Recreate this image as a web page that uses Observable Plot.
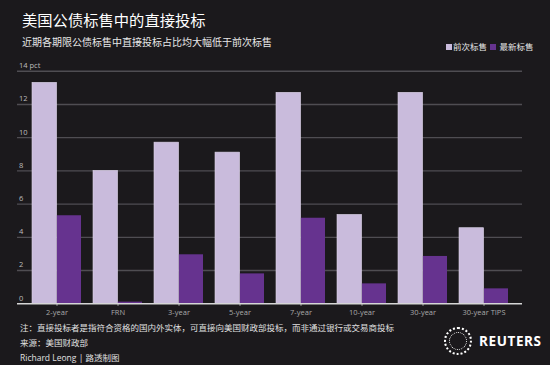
<!DOCTYPE html>
<html>
<head>
<meta charset="utf-8">
<script src="https://cdn.jsdelivr.net/npm/d3@7"></script>
<script src="https://cdn.jsdelivr.net/npm/@observablehq/plot@0.6"></script>
<style>
  html, body { margin: 0; padding: 0; background: #1b191c; }
  body { width: 550px; height: 365px; position: relative; overflow: hidden;
         font-family: "Open Sans", "Noto Sans CJK SC", sans-serif; }
  .t { position: absolute; white-space: nowrap; }
  #chart { position: absolute; left: 0; top: 0; }
  .sw { display: inline-block; width: 6px; height: 6px; margin-right: 1px; vertical-align: 0px; }
  .ring { position: absolute; border-radius: 50%; border-style: dotted; border-color: #fff; }
</style>
</head>
<body>
<div id="chart"></div>
<div class="t" style="left:22px; top:10px; font-size:15.3px; line-height:20px; color:#fff;">美国公债标售中的直接投标</div>
<div class="t" style="left:22px; top:35px; font-size:10px; line-height:14px; color:#e8e8e8;">近期各期限公债标售中直接投标占比均大幅低于前次标售</div>
<div class="t" id="legend" style="left:446px; top:41px; font-size:8.5px; line-height:12px; color:#e6e6e6;"></div>
<div class="t" style="left:20px; top:322px; font-size:8.5px; line-height:12px; color:#e0e0e0;">注：直接投标者是指符合资格的国内外实体，可直接向美国财政部投标，而非通过银行或交易商投标</div>
<div class="t" style="left:20px; top:337px; font-size:8.5px; line-height:12px; color:#e0e0e0;">来源：美国财政部</div>
<div class="t" style="left:20px; top:352px; font-size:8.5px; line-height:12px; color:#e0e0e0;">Richard Leong | 路透制图</div>
<div class="ring" style="left:444px; top:327px; width:24px; height:24px; border-width:2px;"></div>
<div class="ring" style="left:449px; top:332px; width:16px; height:16px; border-width:1.5px;"></div>
<div class="t" style="left:479px; top:332px; font-size:13.5px; line-height:18px; font-weight:bold; color:#fff; letter-spacing:0.6px; font-family:'Open Sans', sans-serif;">REUTERS</div>
<script>
const categories = ["2-year", "FRN", "3-year", "5-year", "7-year", "10-year", "30-year", "30-year TIPS"];
const previous = [13.3, 8.0, 9.7, 9.1, 12.7, 5.35, 12.7, 4.55];
const latest = [5.3, 0.1, 2.95, 1.8, 5.15, 1.2, 2.85, 0.9];
const seriesNames = ["前次标售", "最新标售"];
const yTicks = [0, 2, 4, 6, 8, 10, 12, 14];
const yTickLabels = ["0", "2", "4", "6", "8", "10", "12", "14 pct"];

const colors = ["#c9bbdc", "#66338f"];

const rows = categories.map((c, i) => ({cat: c, prev: previous[i], last: latest[i]}));

const xRange = [32.3, 508.3];
const bw = d3.scaleBand().domain(categories).range(xRange).paddingInner(0.2).paddingOuter(0).bandwidth();

const chart = Plot.plot({
  width: 550,
  height: 325,
  marginLeft: 17,
  marginRight: 28,
  marginTop: 70.7,
  marginBottom: 21.7,
  style: {background: "transparent", color: "#a8a8a8", fontSize: "7.5px", fontFamily: "'Open Sans', 'Noto Sans CJK SC', sans-serif"},
  x: {domain: categories, range: xRange, paddingInner: 0.2, paddingOuter: 0, tickSize: 2.5, tickPadding: 3.5, label: null},
  y: {domain: [0, 14], axis: null},
  marks: [
    Plot.ruleY(yTicks.filter(d => d > 0), {stroke: "#4f4d52", strokeWidth: 1.4}),
    Plot.text(yTicks, {y: d => d, text: (d, i) => yTickLabels[i], frameAnchor: "left", textAnchor: "start", dx: 1.5, dy: -5.5, fill: "#bdbdbd", fontSize: 7.5}),
    Plot.barY(rows, {x: "cat", y: "prev", fill: colors[0], stroke: "#ddd4e8", strokeWidth: 0.6, insetRight: bw / 2}),
    Plot.barY(rows, {x: "cat", y: "last", fill: colors[1], insetLeft: bw / 2 + 0.5}),
    Plot.ruleY([0], {stroke: "#d6d6d6", strokeWidth: 1.6})
  ]
});
document.getElementById("chart").appendChild(chart);

document.getElementById("legend").innerHTML =
  `<span class="sw" style="background:${colors[0]}"></span>${seriesNames[0]} ` +
  `<span class="sw" style="background:${colors[1]}; margin-left:1px"></span> ${seriesNames[1]}`;
</script>
</body>
</html>
